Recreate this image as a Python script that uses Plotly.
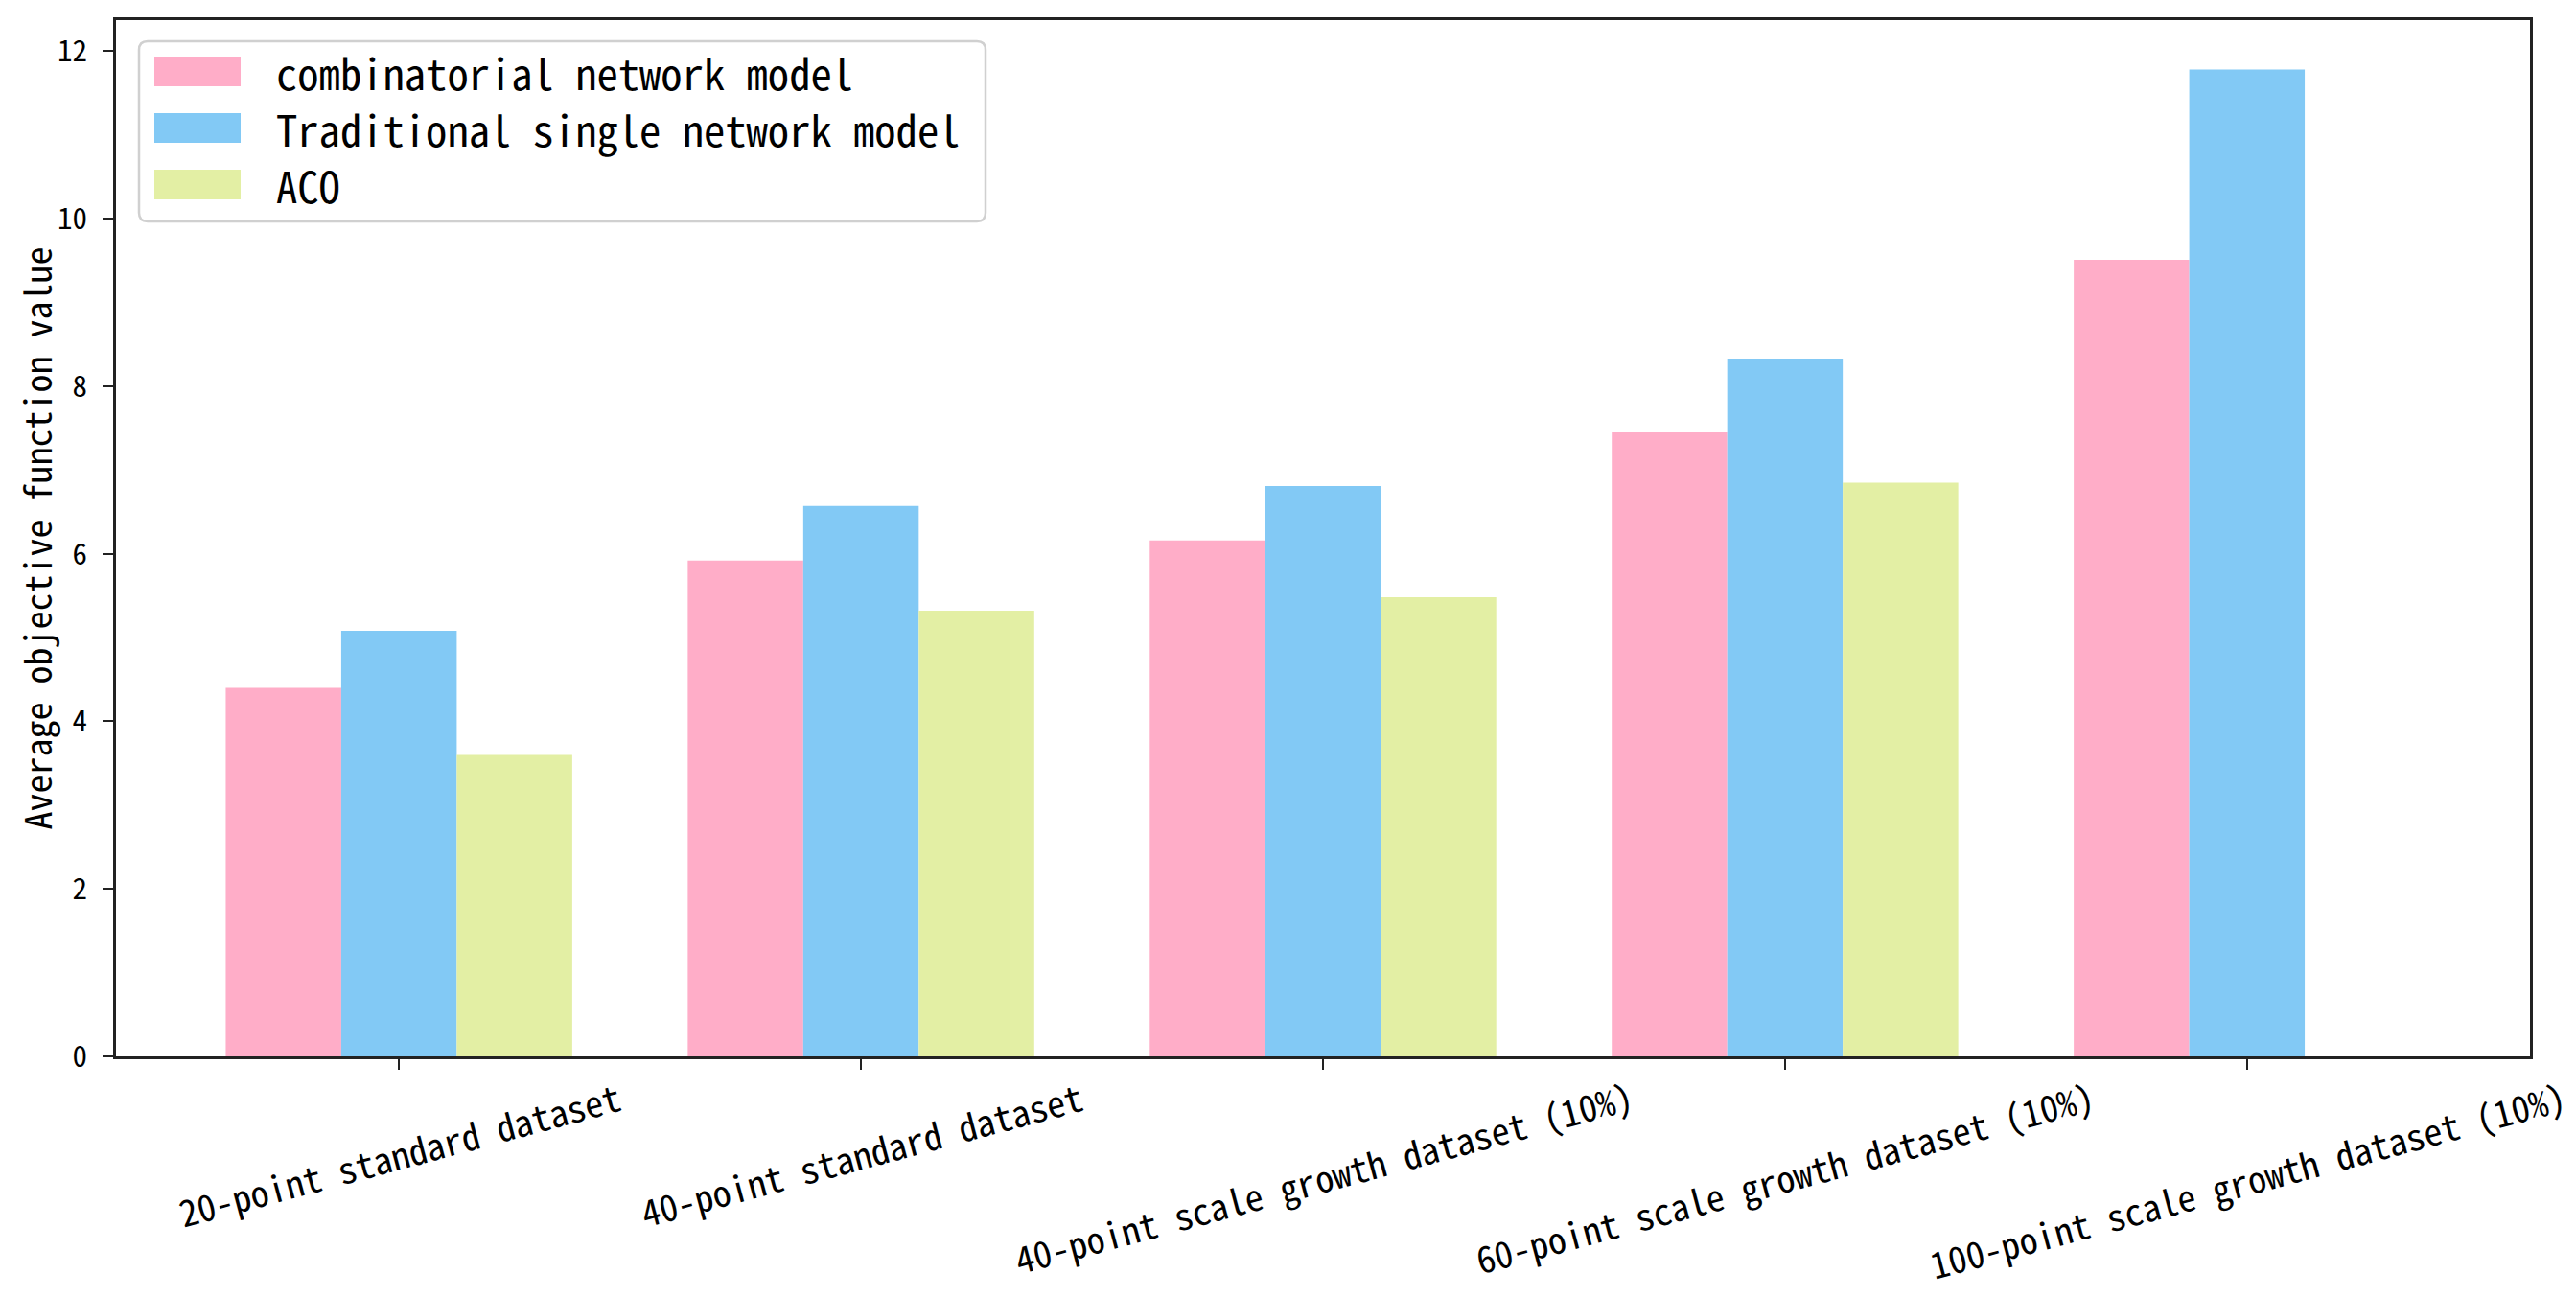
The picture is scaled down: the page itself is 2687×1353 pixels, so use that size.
import math
import plotly.graph_objects as go

# ---------------- data ----------------
categories = [
    "20-point standard dataset",
    "40-point standard dataset",
    "40-point scale growth dataset (10%)",
    "60-point scale growth dataset (10%)",
    "100-point scale growth dataset (10%)",
]
series_names = ["combinatorial network model", "Traditional single network model", "ACO"]
combinatorial = [4.40, 5.92, 6.16, 7.45, 9.51]
traditional = [5.08, 6.57, 6.81, 8.32, 11.78]
aco = [3.60, 5.32, 5.48, 6.85, None]
series_values = [combinatorial, traditional, aco]
colors = ["#FFADC8", "#82C9F5", "#E3EFA4"]
y_tick_vals = [0, 2, 4, 6, 8, 10, 12]
y_label = "Average objective function value"

# ---------------- layout geometry (pixels) ----------------
W, H = 2687, 1353
L, R, T, B = 121, 48, 21, 251
PW, PH = W - L - R, H - T - B
FONT = "Noto Sans Mono CJK SC, DejaVu Sans Mono, monospace"
AXC = "#222222"


def px_x(px):
    return (px - L) / PW


def px_y(py):
    return (H - B - py) / PH


fig = go.Figure()
for name, vals, col in zip(series_names, series_values, colors):
    fig.add_trace(go.Bar(x=categories, y=vals, name=name,
                         marker=dict(color=col, line=dict(width=0)),
                         showlegend=False))

# rotated x tick labels (centred on ticks, top-aligned like matplotlib)
ang = 15
char_w = 19.1
for i, lab in enumerate(categories):
    w = len(lab) * char_w
    cy = 1127 + (w * math.sin(math.radians(ang)) + 30 * math.cos(math.radians(ang))) / 2
    fig.add_annotation(x=i, xref="x", y=px_y(cy), yref="paper", text=lab,
                       showarrow=False, textangle=-ang, xanchor="center", yanchor="middle",
                       font=dict(family=FONT, size=38, color="#000000"))

# y label
fig.add_annotation(x=px_x(37), xref="paper", y=0.5, yref="paper", text=y_label,
                   showarrow=False, textangle=-90, xanchor="center", yanchor="middle",
                   font=dict(family=FONT, size=38, color="#000000"))

# legend (matplotlib style, drawn manually from series names / colours)
lx0, ly0, lx1, ly1 = 145, 43, 1028, 231
rad = 9
rx, ry = rad / PW, rad / PH
x0, x1 = px_x(lx0), px_x(lx1)
y0, y1 = px_y(ly1), px_y(ly0)
path = (f"M{x0+rx},{y0} L{x1-rx},{y0} Q{x1},{y0} {x1},{y0+ry} L{x1},{y1-ry} "
        f"Q{x1},{y1} {x1-rx},{y1} L{x0+rx},{y1} Q{x0},{y1} {x0},{y1-ry} "
        f"L{x0},{y0+ry} Q{x0},{y0} {x0+rx},{y0} Z")
fig.add_shape(type="path", path=path, xref="paper", yref="paper",
              line=dict(color="#D0D0D0", width=2.5), fillcolor="rgba(255,255,255,0.85)",
              layer="above")
row_c = [74.5, 133.5, 192.5]
for name, col, cy in zip(series_names, colors, row_c):
    fig.add_shape(type="rect", xref="paper", yref="paper",
                  x0=px_x(161), x1=px_x(251), y0=px_y(cy + 15.5), y1=px_y(cy - 15.5),
                  fillcolor=col, line=dict(width=0), layer="above")
    fig.add_annotation(x=px_x(286), xref="paper", y=px_y(cy), yref="paper", text=name,
                       showarrow=False, xanchor="left", yanchor="middle",
                       font=dict(family=FONT, size=44.6, color="#000000"))

fig.update_layout(
    width=W, height=H,
    margin=dict(l=L, r=R, t=T, b=B, pad=0),
    paper_bgcolor="white", plot_bgcolor="white",
    barmode="group", bargap=0.25, bargroupgap=0,
    showlegend=False,
    font=dict(family=FONT, color="#000000"),
)
fig.update_xaxes(
    type="category", range=[-0.6125, 4.6125],
    showline=True, linecolor=AXC, linewidth=2.5, mirror=True,
    ticks="outside", ticklen=11, tickwidth=2.2, tickcolor=AXC,
    showticklabels=False, showgrid=False, zeroline=False,
)
fig.update_yaxes(
    range=[0, 12.37], tickmode="array", tickvals=y_tick_vals,
    ticktext=[str(v) for v in y_tick_vals],
    showline=True, linecolor=AXC, linewidth=2.5, mirror=True,
    ticks="outside", ticklen=11, tickwidth=2.2, tickcolor=AXC,
    tickfont=dict(family=FONT, size=31, color="#000000"),
    ticklabelstandoff=10,
    showgrid=False, zeroline=False,
)

fig.write_html("out.html", config={"displayModeBar": False},
               post_script="document.body.style.margin='0';document.body.style.overflow='hidden';")
